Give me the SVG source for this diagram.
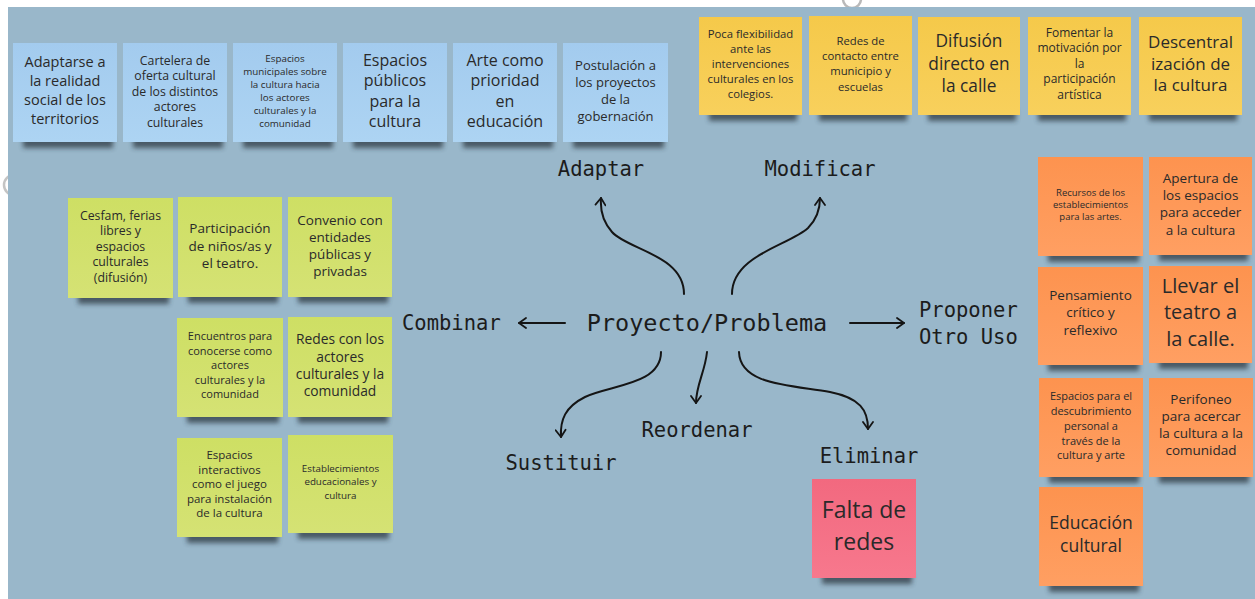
<svg xmlns="http://www.w3.org/2000/svg" width="1255" height="599" viewBox="0 0 1255 599">
<style>
.note text{font-family:"Open Sans","Noto Sans","Liberation Sans",sans-serif;fill:#2a2a2a;text-anchor:middle}
.sh{fill:#26323b;opacity:.7;filter:url(#blur)}
.lbl{font-family:"DejaVu Sans Mono","Liberation Mono",monospace;font-size:20.5px;fill:#1c1c1c}
.edge{fill:none;stroke:#151515;stroke-width:2;stroke-linecap:round;marker-end:url(#arr)}
.blue{fill:url(#gBlue)}.yel{fill:url(#gYel)}.grn{fill:url(#gGrn)}.org{fill:url(#gOrg)}.pnk{fill:url(#gPnk)}
</style>
<defs>
<filter id="blur" x="-20%" y="-100%" width="140%" height="300%"><feGaussianBlur stdDeviation="2.8"/></filter>
<linearGradient id="gBlue" x1="0" y1="0" x2="0" y2="1"><stop offset="0" stop-color="#a3cbee"/><stop offset="1" stop-color="#add4f3"/></linearGradient>
<linearGradient id="gYel" x1="0" y1="0" x2="0" y2="1"><stop offset="0" stop-color="#f5c94a"/><stop offset="1" stop-color="#f8d05c"/></linearGradient>
<linearGradient id="gGrn" x1="0" y1="0" x2="0" y2="1"><stop offset="0" stop-color="#cedf64"/><stop offset="1" stop-color="#d5e274"/></linearGradient>
<linearGradient id="gOrg" x1="0" y1="0" x2="0" y2="1"><stop offset="0" stop-color="#fd934f"/><stop offset="1" stop-color="#ff9f62"/></linearGradient>
<linearGradient id="gPnk" x1="0" y1="0" x2="0" y2="1"><stop offset="0" stop-color="#f2697f"/><stop offset="1" stop-color="#f7788d"/></linearGradient>
<marker id="arr" viewBox="0 0 12 12" refX="10" refY="6" markerWidth="12" markerHeight="12" markerUnits="userSpaceOnUse" orient="auto"><path d="M3,1 L10,6 L3,11" fill="none" stroke="#151515" stroke-width="1.8" stroke-linecap="round" stroke-linejoin="round"/></marker>
</defs>
<rect x="0" y="0" width="1255" height="599" fill="#ffffff"/>
<circle cx="852" cy="-1" r="9" fill="none" stroke="#b9b9b9" stroke-width="2.5"/>
<circle cx="14" cy="185" r="10" fill="none" stroke="#c4c4c4" stroke-width="2.5"/>
<rect x="8" y="7" width="1247" height="592" fill="#99b7ca"/>

<g id="connectors">
<path class="edge" d="M684,294 C684,255 628,250 612,232 C603,222 600,211 601,198"/>
<path class="edge" d="M732,294 C732,255 790,245 808,228 C816,220 820,210 820,198"/>
<path class="edge" d="M565,323 L519,323"/>
<path class="edge" d="M850,323 L904,323"/>
<path class="edge" d="M661,352 C661,385 610,385 585,397 C565,407 560,420 561,437"/>
<path class="edge" d="M707,352 C705,372 696,385 696,403"/>
<path class="edge" d="M739,352 C740,385 790,385 830,392 C860,398 868,410 868,429"/>
</g>

<g id="labels">
<text id="center" class="lbl" x="707" y="331" text-anchor="middle" style="font-size:23.5px">Proyecto/Problema</text>
<text id="adaptar" class="lbl" x="601" y="176" text-anchor="middle">Adaptar</text>
<text id="modificar" class="lbl" x="820" y="176" text-anchor="middle">Modificar</text>
<text id="combinar" class="lbl" x="402" y="330">Combinar</text>
<text id="proponer" class="lbl" x="919" y="317">Proponer<tspan x="919" y="344">Otro Uso</tspan></text>
<text id="reordenar" class="lbl" x="697" y="437" text-anchor="middle">Reordenar</text>
<text id="sustituir" class="lbl" x="561" y="470" text-anchor="middle">Sustituir</text>
<text id="eliminar" class="lbl" x="869" y="463" text-anchor="middle">Eliminar</text>
</g>

<!-- Blue notes -->
<g id="b1" class="note"><rect class="sh" x="23" y="136" width="90" height="12"/><rect class="blue" x="13" y="43" width="104" height="99"/>
<text style="font-size:14.5px"><tspan x="65" y="67">Adaptarse a</tspan><tspan x="65" y="86">la realidad</tspan><tspan x="65" y="105">social de los</tspan><tspan x="65" y="124">territorios</tspan></text></g>
<g id="b2" class="note"><rect class="sh" x="133" y="136" width="90" height="12"/><rect class="blue" x="123" y="43" width="104" height="99"/>
<text style="font-size:12.3px"><tspan x="175" y="64.5">Cartelera de</tspan><tspan x="175" y="80">oferta cultural</tspan><tspan x="175" y="95.5">de los distintos</tspan><tspan x="175" y="111">actores</tspan><tspan x="175" y="126.5">culturales</tspan></text></g>
<g id="b3" class="note"><rect class="sh" x="243" y="136" width="90" height="12"/><rect class="blue" x="233" y="43" width="104" height="99"/>
<text style="font-size:9.8px"><tspan x="285" y="61.5">Espacios</tspan><tspan x="285" y="74.5">municipales sobre</tspan><tspan x="285" y="87.5">la cultura hacia</tspan><tspan x="285" y="100.5">los actores</tspan><tspan x="285" y="113.5">culturales y la</tspan><tspan x="285" y="126.5">comunidad</tspan></text></g>
<g id="b4" class="note"><rect class="sh" x="353" y="136" width="90" height="12"/><rect class="blue" x="343" y="43" width="104" height="99"/>
<text style="font-size:16px"><tspan x="395" y="65.5">Espacios</tspan><tspan x="395" y="86">públicos</tspan><tspan x="395" y="106.5">para la</tspan><tspan x="395" y="127">cultura</tspan></text></g>
<g id="b5" class="note"><rect class="sh" x="463" y="136" width="90" height="12"/><rect class="blue" x="453" y="43" width="104" height="99"/>
<text style="font-size:16px"><tspan x="505" y="65.5">Arte como</tspan><tspan x="505" y="86">prioridad</tspan><tspan x="505" y="106.5">en</tspan><tspan x="505" y="127">educación</tspan></text></g>
<g id="b6" class="note"><rect class="sh" x="573" y="136" width="91" height="12"/><rect class="blue" x="563" y="43" width="105" height="99"/>
<text style="font-size:13px"><tspan x="615.5" y="69.5">Postulación a</tspan><tspan x="615.5" y="86.5">los proyectos</tspan><tspan x="615.5" y="103.5">de la</tspan><tspan x="615.5" y="120.5">gobernación</tspan></text></g>

<!-- Yellow notes -->
<g id="y1" class="note"><rect class="sh" x="709" y="109" width="88" height="12"/><rect class="yel" x="699" y="17" width="103" height="98"/>
<text style="font-size:11.3px"><tspan x="750.5" y="38">Poca flexibilidad</tspan><tspan x="750.5" y="53">ante las</tspan><tspan x="750.5" y="68">intervenciones</tspan><tspan x="750.5" y="83">culturales en los</tspan><tspan x="750.5" y="97.5">colegios.</tspan></text></g>
<g id="y2" class="note"><rect class="sh" x="819" y="109" width="88" height="12"/><rect class="yel" x="809" y="16" width="103" height="99"/>
<text style="font-size:11.3px"><tspan x="860.5" y="45">Redes de</tspan><tspan x="860.5" y="60">contacto entre</tspan><tspan x="860.5" y="75">municipio y</tspan><tspan x="860.5" y="91">escuelas</tspan></text></g>
<g id="y3" class="note"><rect class="sh" x="928" y="109" width="88" height="12"/><rect class="yel" x="918" y="17" width="102" height="98"/>
<text style="font-size:17.3px"><tspan x="969" y="47">Difusión</tspan><tspan x="969" y="69.5">directo en</tspan><tspan x="969" y="92">la calle</tspan></text></g>
<g id="y4" class="note"><rect class="sh" x="1038" y="109" width="88" height="12"/><rect class="yel" x="1028" y="17" width="103" height="98"/>
<text style="font-size:12px"><tspan x="1079.5" y="36.5">Fomentar la</tspan><tspan x="1079.5" y="52">motivación por</tspan><tspan x="1079.5" y="67.5">la</tspan><tspan x="1079.5" y="83">participación</tspan><tspan x="1079.5" y="98.5">artística</tspan></text></g>
<g id="y5" class="note"><rect class="sh" x="1149" y="109" width="88" height="12"/><rect class="yel" x="1139" y="17" width="103" height="98"/>
<text style="font-size:17px"><tspan x="1190.5" y="48">Descentral</tspan><tspan x="1190.5" y="69.5">ización de</tspan><tspan x="1190.5" y="91">la cultura</tspan></text></g>

<!-- Green notes -->
<g id="g1" class="note"><rect class="sh" x="78" y="292" width="91" height="12"/><rect class="grn" x="68" y="198" width="105" height="100"/>
<text style="font-size:12.3px"><tspan x="120.5" y="219.5">Cesfam, ferias</tspan><tspan x="120.5" y="235">libres y</tspan><tspan x="120.5" y="250.5">espacios</tspan><tspan x="120.5" y="266">culturales</tspan><tspan x="120.5" y="281.5">(difusión)</tspan></text></g>
<g id="g2" class="note"><rect class="sh" x="188" y="291" width="90" height="12"/><rect class="grn" x="178" y="197" width="104" height="100"/>
<text style="font-size:13.5px"><tspan x="230" y="233">Participación</tspan><tspan x="230" y="250.5">de niños/as y</tspan><tspan x="230" y="268">el teatro.</tspan></text></g>
<g id="g3" class="note"><rect class="sh" x="298" y="291" width="90" height="12"/><rect class="grn" x="288" y="197" width="104" height="100"/>
<text style="font-size:13.5px"><tspan x="340" y="224.5">Convenio con</tspan><tspan x="340" y="241.5">entidades</tspan><tspan x="340" y="258.5">públicas y</tspan><tspan x="340" y="275.5">privadas</tspan></text></g>
<g id="g4" class="note"><rect class="sh" x="187" y="411" width="92" height="12"/><rect class="grn" x="177" y="318" width="106" height="99"/>
<text style="font-size:11px"><tspan x="230" y="340">Encuentros para</tspan><tspan x="230" y="354.5">conocerse como</tspan><tspan x="230" y="369">actores</tspan><tspan x="230" y="383.5">culturales y la</tspan><tspan x="230" y="398">comunidad</tspan></text></g>
<g id="g5" class="note"><rect class="sh" x="298" y="411" width="90" height="12"/><rect class="grn" x="288" y="317" width="104" height="100"/>
<text style="font-size:13.8px"><tspan x="340" y="344">Redes con los</tspan><tspan x="340" y="361.5">actores</tspan><tspan x="340" y="378.5">culturales y la</tspan><tspan x="340" y="396">comunidad</tspan></text></g>
<g id="g6" class="note"><rect class="sh" x="187" y="531" width="91" height="12"/><rect class="grn" x="177" y="438" width="105" height="99"/>
<text style="font-size:11.5px"><tspan x="229.5" y="459">Espacios</tspan><tspan x="229.5" y="473.5">interactivos</tspan><tspan x="229.5" y="488">como el juego</tspan><tspan x="229.5" y="502.5">para instalación</tspan><tspan x="229.5" y="517">de la cultura</tspan></text></g>
<g id="g7" class="note"><rect class="sh" x="298" y="527" width="91" height="12"/><rect class="grn" x="288" y="435" width="105" height="98"/>
<text style="font-size:9.8px"><tspan x="340.5" y="471.5">Establecimientos</tspan><tspan x="340.5" y="485">educacionales y</tspan><tspan x="340.5" y="498.5">cultura</tspan></text></g>

<!-- Orange notes -->
<g id="o1" class="note"><rect class="sh" x="1048" y="250" width="91" height="12"/><rect class="org" x="1038" y="157" width="105" height="99"/>
<text style="font-size:9.5px"><tspan x="1090.5" y="195.5">Recursos de los</tspan><tspan x="1090.5" y="207.5">establecimientos</tspan><tspan x="1090.5" y="219.5">para las artes.</tspan></text></g>
<g id="o2" class="note"><rect class="sh" x="1159" y="249" width="89" height="12"/><rect class="org" x="1149" y="157" width="103" height="98"/>
<text style="font-size:13.5px"><tspan x="1200.5" y="182.5">Apertura de</tspan><tspan x="1200.5" y="200">los espacios</tspan><tspan x="1200.5" y="217">para acceder</tspan><tspan x="1200.5" y="234.5">a la cultura</tspan></text></g>
<g id="o3" class="note"><rect class="sh" x="1048" y="359" width="91" height="12"/><rect class="org" x="1038" y="267" width="105" height="98"/>
<text style="font-size:13.5px"><tspan x="1090.5" y="299.5">Pensamiento</tspan><tspan x="1090.5" y="317">crítico y</tspan><tspan x="1090.5" y="334.5">reflexivo</tspan></text></g>
<g id="o4" class="note"><rect class="sh" x="1159" y="357" width="89" height="12"/><rect class="org" x="1149" y="266" width="103" height="97"/>
<text style="font-size:20px"><tspan x="1200.5" y="293">Llevar el</tspan><tspan x="1200.5" y="319">teatro a</tspan><tspan x="1200.5" y="346">la calle.</tspan></text></g>
<g id="o5" class="note"><rect class="sh" x="1049" y="471" width="90" height="12"/><rect class="org" x="1039" y="378" width="104" height="99"/>
<text style="font-size:11px"><tspan x="1091" y="400">Espacios para el</tspan><tspan x="1091" y="414.5">descubrimiento</tspan><tspan x="1091" y="429.5">personal a</tspan><tspan x="1091" y="444.5">través de la</tspan><tspan x="1091" y="459">cultura y arte</tspan></text></g>
<g id="o6" class="note"><rect class="sh" x="1159" y="471" width="90" height="12"/><rect class="org" x="1149" y="378" width="104" height="99"/>
<text style="font-size:13.5px"><tspan x="1201" y="404">Perifoneo</tspan><tspan x="1201" y="421">para acercar</tspan><tspan x="1201" y="438">la cultura a la</tspan><tspan x="1201" y="455">comunidad</tspan></text></g>
<g id="o7" class="note"><rect class="sh" x="1049" y="580" width="90" height="12"/><rect class="org" x="1039" y="487" width="104" height="99"/>
<text style="font-size:17.5px"><tspan x="1091" y="529">Educación</tspan><tspan x="1091" y="551.5">cultural</tspan></text></g>

<!-- Pink note -->
<g id="p1" class="note"><rect class="sh" x="822" y="572" width="90" height="12"/><rect class="pnk" x="812" y="479" width="104" height="99"/>
<text style="font-size:23px"><tspan x="864" y="518">Falta de</tspan><tspan x="864" y="550">redes</tspan></text></g>
</svg>
